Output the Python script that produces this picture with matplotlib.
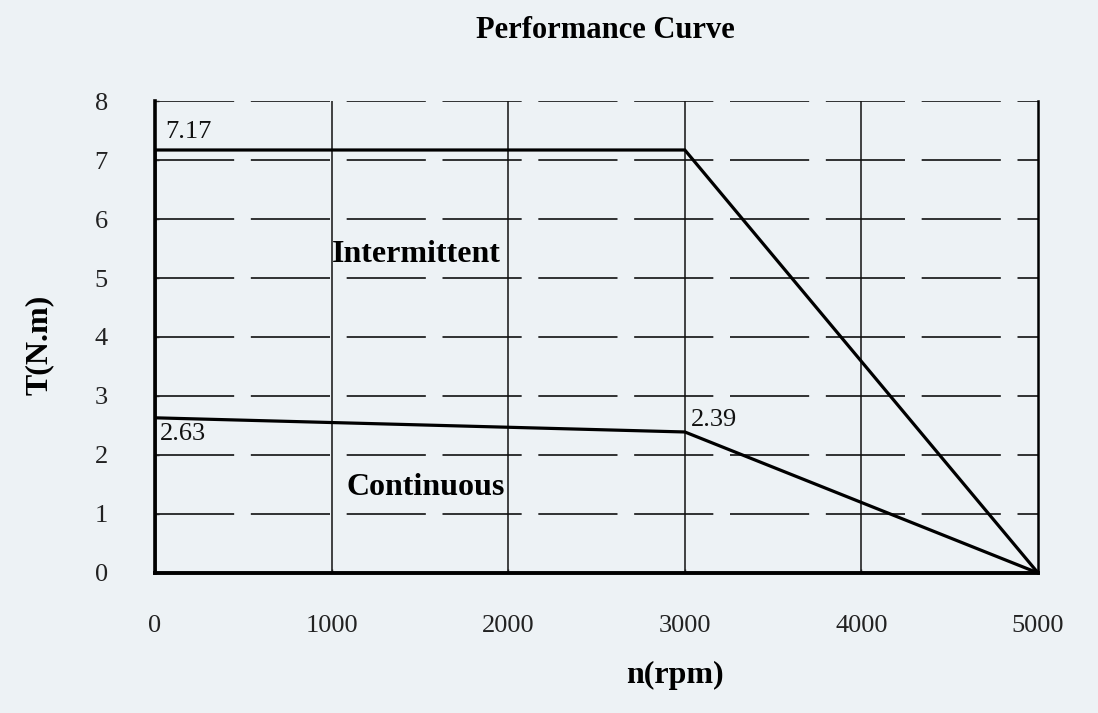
import matplotlib.pyplot as plt

# data
speed_int = [0, 0, 3000, 5000]
torque_int = [0, 7.17, 7.17, 0]
speed_cont = [0, 3000, 5000]
torque_cont = [2.63, 2.39, 0]
x_ticks = [0, 1000, 2000, 3000, 4000, 5000]
y_ticks = [0, 1, 2, 3, 4, 5, 6, 7, 8]
point_labels = ['7.17', '2.63', '2.39']

bg = '#edf2f5'
plt.rcParams['lines.scale_dashes'] = False
serif = ['Liberation Serif', 'DejaVu Serif']
cond = dict(family=serif, weight='bold')

fig = plt.figure(figsize=(10.98, 7.13), dpi=100, facecolor=bg)
ax = fig.add_axes([0.1412, 0.1964, 0.8042, 0.6619], facecolor=bg)

# grid
for yv in y_ticks[1:]:
    ax.axhline(yv, color='#111', lw=1.2, ls=(0, (57, 12)), zorder=1)
for xv in x_ticks[1:-1]:
    ax.axvline(xv, color='#111', lw=1.1, zorder=1)

# curves
ax.plot(speed_int, torque_int, color='black', lw=2.3, zorder=3, solid_joinstyle='miter')
ax.plot(speed_cont, torque_cont, color='black', lw=2.3, zorder=3)

ax.set_xlim(0, 5000)
ax.set_ylim(0, 8)
ax.set_xticks(x_ticks)
ax.set_yticks(y_ticks)
ax.tick_params(direction='in', length=3, width=1, labelsize=19, colors='#222')
ax.tick_params(axis='y', pad=34)
ax.tick_params(axis='x', pad=30)
for lab in ax.get_xticklabels() + ax.get_yticklabels():
    lab.set_family(serif)

ax.spines['top'].set_visible(False)
ax.spines['left'].set_linewidth(2.6)
ax.spines['bottom'].set_linewidth(2.8)
ax.spines['right'].set_linewidth(1.8)

# annotations
ax.text(60, 7.17 + 0.12, point_labels[0], fontsize=19, family=serif, va='bottom', color='#111')
ax.text(30, 2.63 - 0.08, point_labels[1], fontsize=19, family=serif, va='top', color='#111')
ax.text(3035, 2.39 + 0.02, point_labels[2], fontsize=19, family=serif, va='bottom', color='#111')
ax.text(1000, 5.4, 'Intermittent', fontsize=23, va='center', ha='left', **cond)
ax.text(1085, 1.45, 'Continuous', fontsize=23, va='center', ha='left', **cond)

fig.text(0.551, 0.957, 'Performance Curve', fontsize=22, ha='center', va='center', **cond)
fig.text(0.615, 0.053, 'n(rpm)', fontsize=23, ha='center', va='center', **cond)
fig.text(0.036, 0.516, 'T(N.m)', fontsize=23, ha='center', va='center', rotation=90, **cond)

fig.savefig('out.png', dpi=100, facecolor=bg)
